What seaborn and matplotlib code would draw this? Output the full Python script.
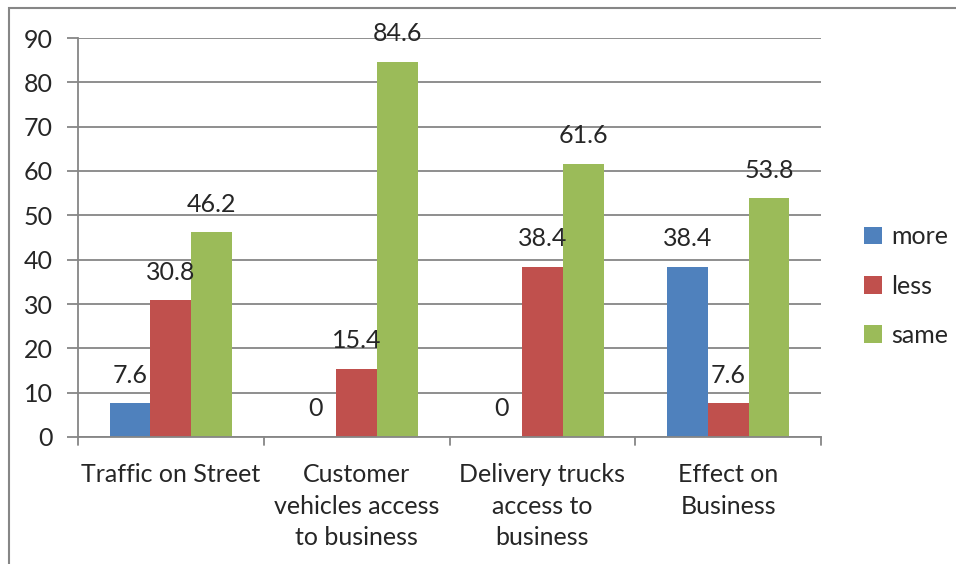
import matplotlib
matplotlib.use("Agg")
import matplotlib.pyplot as plt
import seaborn as sns
import pandas as pd
from matplotlib.patches import Rectangle

categories = ["Traffic on Street", "Customer\nvehicles access\nto business",
              "Delivery trucks\naccess to\nbusiness", "Effect on\nBusiness"]
series = ["more", "less", "same"]
more = [7.6, 0, 0, 38.4]
less = [30.8, 15.4, 38.4, 7.6]
same = [46.2, 84.6, 61.6, 53.8]
yticks = [0, 10, 20, 30, 40, 50, 60, 70, 80, 90]
colors = ["#4F81BD", "#C0504D", "#9BBB59"]

rows = []
for s, vals in zip(series, [more, less, same]):
    for c, v in zip(categories, vals):
        rows.append({"category": c, "series": s, "value": v})
df = pd.DataFrame(rows)

sns.set_style("white")
plt.rcParams['font.family'] = ['Lato', 'DejaVu Sans']
W, H = 956, 564
fig = plt.figure(figsize=(W / 100, H / 100), dpi=100)
ax = fig.add_axes([78 / W, (H - 437) / H, (821 - 78) / W, (437 - 38) / H])

grid_c = "#868686"
ax.set_axisbelow(True)
sns.barplot(data=df, x="category", y="value", hue="series", order=categories,
            hue_order=series, palette=colors, width=0.66, saturation=1,
            edgecolor="none", linewidth=0, ax=ax, legend=True)

ax.set_ylim(0, 90)
ax.set_xlim(-0.5, len(categories) - 0.5)
ax.set_yticks(yticks)
ax.set_yticklabels([str(t) for t in yticks], fontsize=18)
ax.yaxis.grid(True, color=grid_c, linewidth=1.3)
ax.set_xlabel("")
ax.set_ylabel("")

ax.set_xticks([i for i in range(len(categories))])
ax.set_xticklabels(categories, fontsize=18, linespacing=1.45, va="top")
ax.tick_params(axis="x", length=0, pad=19)
for b in [i - 0.5 for i in range(len(categories) + 1)]:
    ax.plot([b, b], [0, -1.8], color=grid_c, linewidth=1.3, clip_on=False,
            transform=ax.transData)
ax.tick_params(axis="y", length=8, width=1.3, color=grid_c, pad=10, left=True)

for side in ["top", "right"]:
    ax.spines[side].set_visible(False)
for side in ["left", "bottom"]:
    ax.spines[side].set_color(grid_c)
    ax.spines[side].set_linewidth(1.3)

for cont in ax.containers:
    ax.bar_label(cont, labels=[f"{v:g}" for v in cont.datavalues],
                 padding=12, fontsize=18)

leg = ax.legend(loc="center left", bbox_to_anchor=(1 + 43 / 743, (437 - 286) / 399),
                frameon=False, borderaxespad=0, borderpad=0,
                fontsize=18, handlelength=0.7, handleheight=0.7,
                handletextpad=0.4, labelspacing=1.05)

fig.patches.append(Rectangle((9 / W, -0.2), 1.2, (H - 8) / H + 0.2,
                             transform=fig.transFigure, fill=False,
                             edgecolor=grid_c, linewidth=1.5))

fig.savefig("out.png", dpi=100)
